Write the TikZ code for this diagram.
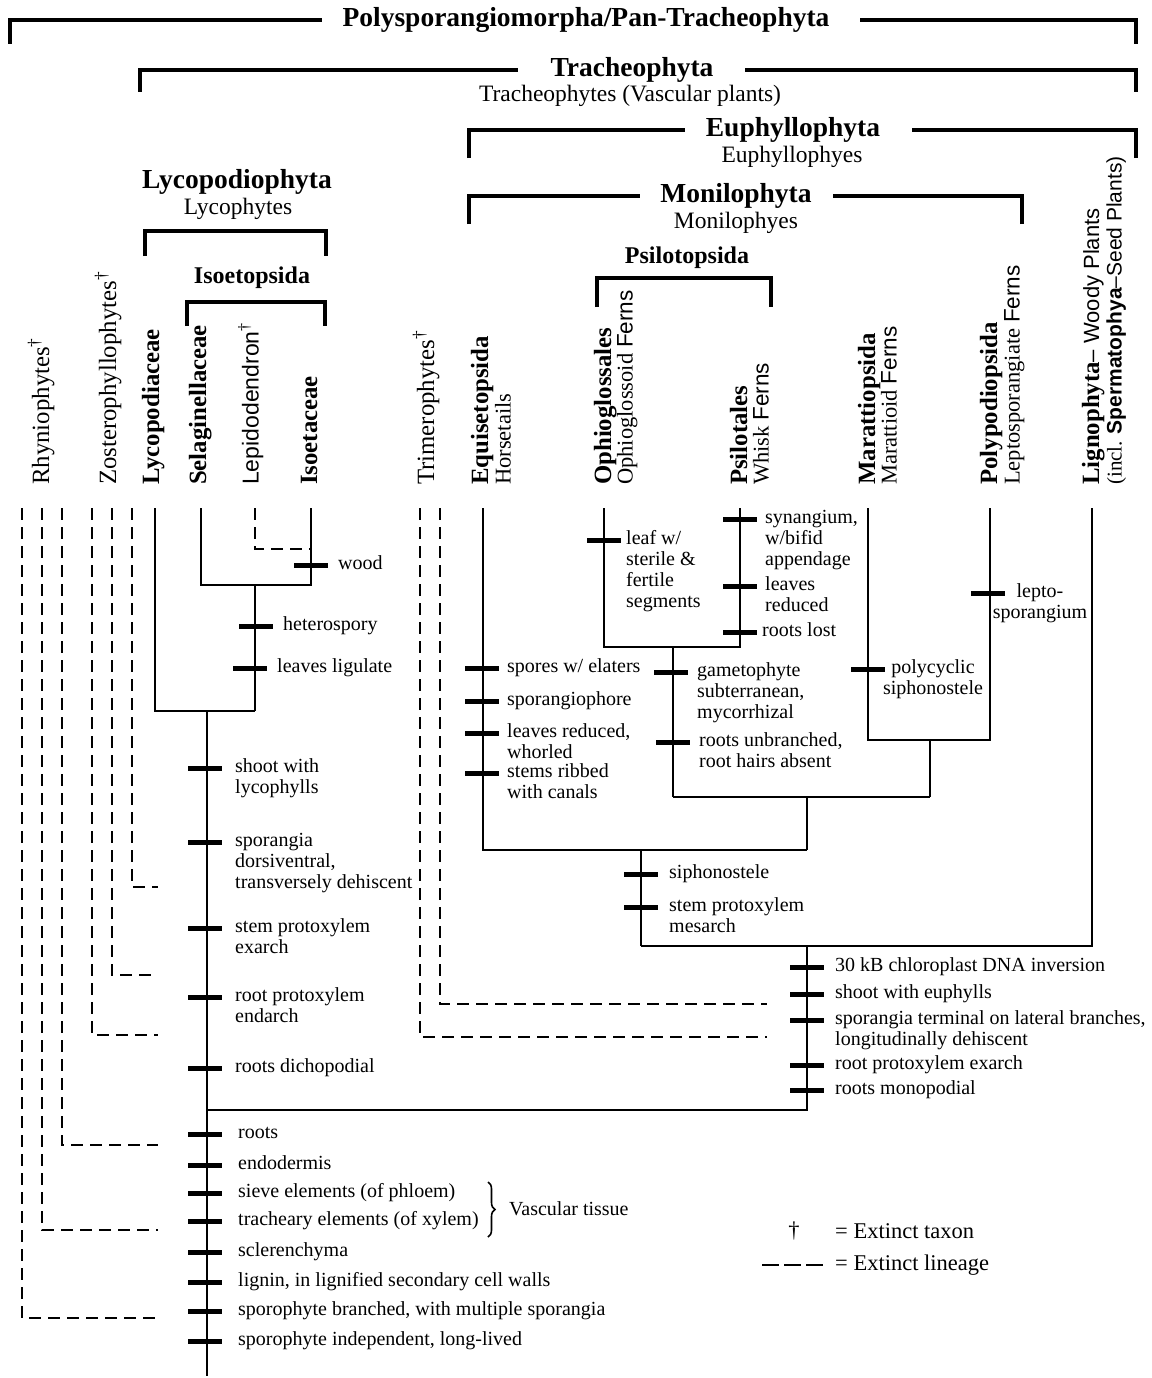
\documentclass[tikz,border=0pt]{standalone}
\usepackage{fontspec}
\setmainfont{Liberation Serif}
\newfontfamily\sansf{Liberation Sans}
\usetikzlibrary{decorations.pathreplacing}
\newcommand\fsF{\fontsize{20}{21}\selectfont}
\newcommand\fsH{\fontsize{27.5}{30}\selectfont\bfseries}
\newcommand\fsI{\fontsize{24}{27}\selectfont\bfseries}
\newcommand\fsS{\fontsize{23.5}{26}\selectfont}
\newcommand\fsR{\fontsize{24.8}{27}\selectfont}
\newcommand\fsRs{\fontsize{22.5}{25}\selectfont}
\newcommand\fsG{\fontsize{22.5}{25}\selectfont}
\newcommand\ft[5]{\node[tk] (t#1) at (#2,#3) {};\node[lab] (f#1) at (#4,#3) {\strut #5};}
\begin{document}
\begin{tikzpicture}[x=1pt,y=-1pt,
 br/.style={line width=3.5pt},
 ln/.style={line width=1.4pt},
 dl/.style={line width=1.4pt, dash pattern=on 12pt off 7pt},
 tk/.style={rectangle, fill=black, inner sep=0pt, minimum width=34pt, minimum height=5pt},
 lab/.style={anchor=north west, inner sep=0pt, align=left, font=\fsF, yshift=10pt},
 labc/.style={anchor=north, inner sep=0pt, align=center, font=\fsF, yshift=10pt},
 hd/.style={inner sep=0pt, font=\fsH, text height=19pt, text depth=6pt},
 sub/.style={inner sep=0pt, font=\fsS, text height=17pt, text depth=5pt},
 rl/.style={rotate=90, anchor=west, inner sep=0pt, font=\fsR, text height=17pt, text depth=5pt},
 rb/.style={rl, font=\fsR\bfseries},
 rs/.style={rotate=90, anchor=west, inner sep=0pt, font=\fsRs, text height=16pt, text depth=5pt},
]
\useasboundingbox (0,0) rectangle (1151,1378);

% ---------- headings and brackets ----------
\node[hd] (poly) at (586,20) {Polysporangiomorpha/Pan-Tracheophyta};
\coordinate (polyL) at (10,44); \coordinate (polyLe) at (322,20);
\coordinate (polyR) at (1136,44); \coordinate (polyRe) at (860,20);
\draw[br] (polyL) -- (polyL |- polyLe) -- (polyLe);
\draw[br] (polyR) -- (polyR |- polyRe) -- (polyRe);

\node[hd] (trach) at (632,70) {Tracheophyta};
\node[sub] (trachs) at (630,96) {Tracheophytes (Vascular plants)};
\coordinate (trL) at (140,92); \coordinate (trLe) at (518,70);
\coordinate (trR) at (1136,92); \coordinate (trRe) at (745,70);
\draw[br] (trL) -- (trL |- trLe) -- (trLe);
\draw[br] (trR) -- (trR |- trRe) -- (trRe);

\node[hd] (euph) at (793,130) {Euphyllophyta};
\node[sub] (euphs) at (792,156) {Euphyllophyes};
\coordinate (euL) at (469,158); \coordinate (euLe) at (685,130);
\coordinate (euR) at (1136,158); \coordinate (euRe) at (912,130);
\draw[br] (euL) -- (euL |- euLe) -- (euLe);
\draw[br] (euR) -- (euR |- euRe) -- (euRe);

\node[hd] (moni) at (736,196) {Monilophyta};
\node[sub] (monis) at (736,222) {Monilophyes};
\coordinate (moL) at (469,224); \coordinate (moLe) at (640,196);
\coordinate (moR) at (1022,224); \coordinate (moRe) at (833,196);
\draw[br] (moL) -- (moL |- moLe) -- (moLe);
\draw[br] (moR) -- (moR |- moRe) -- (moRe);

\node[hd] (lyco) at (237,182) {Lycopodiophyta};
\node[sub] (lycos) at (238,208) {Lycophytes};
\coordinate (lyL) at (145,256); \coordinate (lyR) at (326,256);
\draw[br] (lyL) -- ++(0,-25) -| (lyR);

\node[hd, font=\fsI] (isoe) at (252,277) {Isoetopsida};
\coordinate (isL) at (187,326); \coordinate (isR) at (325,326);
\draw[br] (isL) -- ++(0,-24) -| (isR);

\node[hd, font=\fsI] (psil) at (687,257) {Psilotopsida};
\coordinate (psL) at (597,307); \coordinate (psR) at (771,307);
\draw[br] (psL) -- ++(0,-29) -| (psR);

% ---------- rotated taxon labels ----------
\node[rl] (nRhy) at (43,485) {Rhyniophytes\textsuperscript{†}};
\node[rl] (nZos) at (110,485) {Zosterophyllophytes\textsuperscript{†}};
\node[rb] (nLyc) at (153,485) {Lycopodiaceae};
\node[rb] (nSel) at (200,485) {Selaginellaceae};
\node[rs, font=\fontsize{23}{25}\selectfont\sansf] (nLep) at (253,485) {Lepidodendron\textsuperscript{\rmfamily †}};
\node[rb] (nIso) at (311,485) {Isoetaceae};
\node[rl] (nTri) at (428,485) {Trimerophytes\textsuperscript{†}};
\node[rb] (nEqu) at (482,485) {Equisetopsida};
\node[rs] (nEqu2) at (505,485) {Horsetails};
\node[rb] (nOph) at (605,485) {Ophioglossales};
\node[rs] (nOph2) at (627,485) {Ophioglossoid {\sansf Ferns}};
\node[rb] (nPsi) at (741,485) {Psilotales};
\node[rs] (nPsi2) at (763,485) {Whisk {\sansf Ferns}};
\node[rb] (nMar) at (869,485) {Marattiopsida};
\node[rs] (nMar2) at (891,485) {Marattioid {\sansf Ferns}};
\node[rb] (nPol) at (991,485) {Polypodiopsida};
\node[rs] (nPol2) at (1014,485) {Leptosporangiate {\sansf Ferns}};
\node[rb] (nLig) at (1093,485) {Lignophyta{\mdseries\fontsize{22}{25}\selectfont\sansf – Woody Plants}};
\node[rs, font=\fontsize{21}{24}\selectfont] (nLig2) at (1116,485) {(incl. {\sansf\bfseries Spermatophya}{\sansf –Seed Plants)}};

% ---------- extinct lineages (dashed) ----------
\foreach \x/\y [count=\i] in {22/1318, 42/1230, 62/1145, 92/1035, 112/975, 132/887} {
  \coordinate (d\i t) at (\x,508);
  \coordinate (d\i e) at (158,\y);
  \draw[dl] (d\i t) |- (d\i e);
}
\coordinate (tri1) at (440,508); \coordinate (tri1e) at (767,1004);
\coordinate (tri2) at (420,508); \coordinate (tri2e) at (767,1037);
\draw[dl] (tri1) |- (tri1e);
\draw[dl] (tri2) |- (tri2e);

% ---------- lycophyte clade ----------
\coordinate (Lyc) at (155,508); \coordinate (Sel) at (201,508);
\coordinate (Lep) at (255,508); \coordinate (Iso) at (311,508);
\coordinate (jIso) at (311,585); \coordinate (jSI) at (255,585);
\coordinate (jLy) at (255,711); \coordinate (jTr) at (207,711);
\coordinate (root) at (207,1376); \coordinate (lepE) at (311,549);
\draw[dl] (Lep) |- (lepE);
\draw[ln] (Sel) |- (jIso) -- (Iso);
\draw[ln] (jSI) -- (jLy);
\draw[ln] (Lyc) |- (jLy);
\draw[ln] (jTr) -- (root);

% ---------- euphyllophyte clade ----------
\coordinate (Equ) at (483,508); \coordinate (Oph) at (604,508);
\coordinate (Psi) at (740,508); \coordinate (Mar) at (868,508);
\coordinate (Pol) at (990,508); \coordinate (Lig) at (1092,508);
\coordinate (jOP2) at (740,647); \coordinate (jOP) at (673,647); \coordinate (jOPb) at (673,797);
\coordinate (jMP2) at (990,740); \coordinate (jMP) at (930,740); \coordinate (jMPb) at (930,797);
\coordinate (jPt) at (807,797); \coordinate (jPb) at (807,850);
\coordinate (jM) at (641,850); \coordinate (jMb) at (641,946);
\coordinate (jE) at (807,946); \coordinate (jEb) at (807,1110);
\draw[ln] (Oph) |- (jOP2) -- (Psi);
\draw[ln] (jOP) -- (jOPb);
\draw[ln] (Mar) |- (jMP2) -- (Pol);
\draw[ln] (jMP) -- (jMPb);
\draw[ln] (jOPb) -- (jMPb);
\draw[ln] (jPt) -- (jPb);
\draw[ln] (Equ) |- (jPb);
\draw[ln] (jM) -- (jMb);
\draw[ln] (Lig) |- (jMb);
\draw[ln] (jE) -- (jEb) -- (jTr |- jEb);

% ---------- characters ----------
\ft{wood}{311}{565}{338}{wood}
\ft{het}{256}{626}{283}{heterospory}
\ft{lig}{250}{668}{277}{leaves ligulate}

\ft{a1}{205}{768}{235}{shoot with\\lycophylls}
\ft{a2}{205}{842}{235}{sporangia\\dorsiventral,\\transversely dehiscent}
\ft{a3}{205}{928}{235}{stem protoxylem\\exarch}
\ft{a4}{205}{997}{235}{root protoxylem\\endarch}
\ft{a5}{205}{1068}{235}{roots dichopodial}
\ft{b1}{205}{1134}{238}{roots}
\ft{b2}{205}{1165}{238}{endodermis}
\ft{b3}{205}{1193}{238}{sieve elements (of phloem)}
\ft{b4}{205}{1221}{238}{tracheary elements (of xylem)}
\ft{b5}{205}{1252}{238}{sclerenchyma}
\ft{b6}{205}{1282}{238}{lignin, in lignified secondary cell walls}
\ft{b7}{205}{1311}{238}{sporophyte branched, with multiple sporangia}
\ft{b8}{205}{1341}{238}{sporophyte independent, long-lived}

\ft{e1}{482}{668}{507}{spores w/ elaters}
\ft{e2}{482}{701}{507}{sporangiophore}
\ft{e3}{482}{733}{507}{leaves reduced,\\whorled}
\ft{e4}{482}{773}{507}{stems ribbed\\with canals}

\ft{o1}{604}{540}{626}{leaf w/\\sterile \&\\fertile\\segments}
\ft{p1}{740}{519}{765}{synangium,\\w/bifid\\appendage}
\ft{p2}{740}{586}{765}{leaves\\reduced}
\ft{p3}{740}{632}{762}{roots lost}
\ft{q1}{671}{672}{697}{gametophyte\\subterranean,\\mycorrhizal}
\ft{q2}{673}{742}{699}{roots unbranched,\\root hairs absent}

\node[tk] (tm) at (868,669) {};
\node[labc] (fm) at (933,669) {\strut polycyclic\\siphonostele};
\node[tk] (tpo) at (988,593) {};
\node[labc] (fpo) at (1040,593) {\strut lepto-\\sporangium};

\ft{m1}{641}{874}{669}{siphonostele}
\ft{m2}{641}{907}{669}{stem protoxylem\\mesarch}

\ft{u1}{807}{967}{835}{30 kB chloroplast DNA inversion}
\ft{u2}{807}{994}{835}{shoot with euphylls}
\ft{u3}{807}{1020}{835}{sporangia terminal on lateral branches,\\longitudinally dehiscent}
\ft{u4}{807}{1065}{835}{root protoxylem exarch}
\ft{u5}{807}{1090}{835}{roots monopodial}

% ---------- vascular tissue brace ----------
\coordinate (brT) at (488,1182); \coordinate (brB) at (488,1237);
\draw[line width=1.6pt, decorate, decoration={brace, amplitude=7pt}] (brT) -- (brB);
\node[font=\fsF, anchor=west, inner sep=0pt] (vasc) at (509,1209) {Vascular tissue};

% ---------- legend ----------
\node[font=\fsG, inner sep=0pt] (dag) at (794,1231) {†};
\node[font=\fsG, anchor=west, inner sep=0pt] (leg1) at (835,1231) {= Extinct taxon};
\coordinate (lgA) at (762,1265); \coordinate (lgB) at (823,1265);
\draw[line width=1.4pt, dash pattern=on 17pt off 5pt] (lgA) -- (lgB);
\node[font=\fsG, anchor=west, inner sep=0pt] (leg2) at (835,1265) {= Extinct lineage};
\end{tikzpicture}
\end{document}
